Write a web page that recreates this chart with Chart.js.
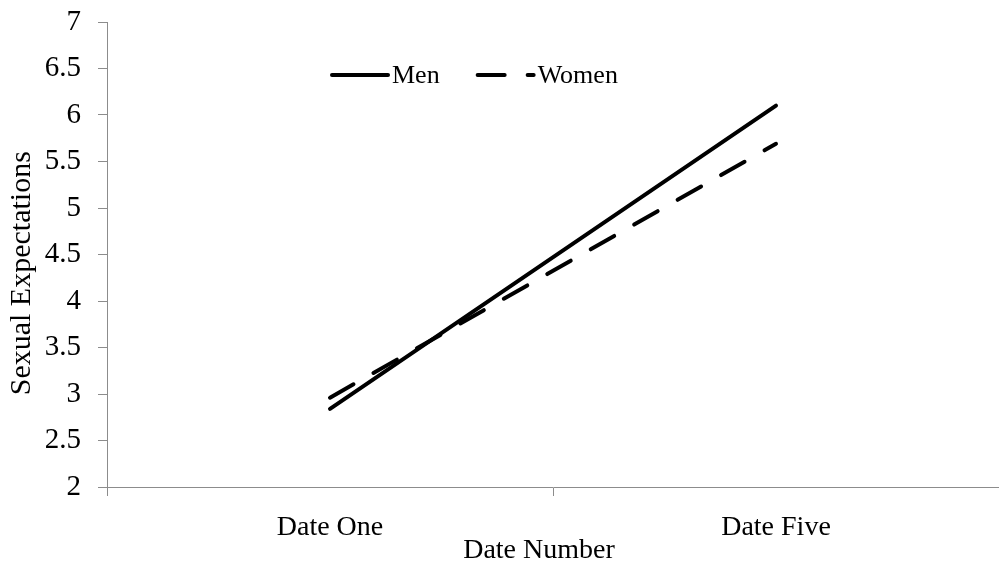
<!DOCTYPE html>
<html>
<head>
<meta charset="utf-8">
<script src="https://cdn.jsdelivr.net/npm/chart.js@4.4.1/dist/chart.umd.min.js"></script>
<style>
html,body{margin:0;padding:0;background:#fff;}
#wrap{width:999px;height:568px;}
</style>
</head>
<body>
<div id="wrap"><canvas id="c" width="999" height="568"></canvas></div>
<script>
const categories = ["Date One", "Date Five"];
const menValues = [2.84, 6.1];
const womenValues = [2.96, 5.69];
const seriesLabels = ["Men", "Women"];
const yTitle = "Sexual Expectations";
const xTitle = "Date Number";

const FONT = "'Liberation Serif', 'Times New Roman', serif";
const AXIS_GRAY = "#8c8c8c";

const customLegend = {
  id: "customLegend",
  afterDraw(chart) {
    const ctx = chart.ctx;
    const area = chart.chartArea;
    const y = area.top + 53;
    let x = area.left + 223;
    ctx.save();
    ctx.font = "26px " + FONT;
    ctx.fillStyle = "#000";
    ctx.textBaseline = "middle";
    chart.data.datasets.forEach((ds, i) => {
      const len = 58;
      ctx.beginPath();
      ctx.strokeStyle = ds.borderColor;
      ctx.lineWidth = ds.borderWidth;
      ctx.lineCap = "round";
      ctx.setLineDash(ds.borderDash || []);
      ctx.moveTo(x + 2, y);
      ctx.lineTo(x + len, y);
      ctx.stroke();
      ctx.setLineDash([]);
      ctx.fillText(ds.label, x + len + 4, y + 1);
      x += len + 4 + ctx.measureText(ds.label).width + 36;
    });
    ctx.restore();
  }
};

new Chart(document.getElementById("c"), {
  type: "line",
  data: {
    labels: categories,
    datasets: [
      {
        label: seriesLabels[0],
        data: menValues,
        borderColor: "#000",
        borderWidth: 4,
        borderCapStyle: "round",
        pointRadius: 0,
        fill: false,
        tension: 0
      },
      {
        label: seriesLabels[1],
        data: womenValues,
        borderColor: "#000",
        borderWidth: 4,
        borderCapStyle: "round",
        borderDash: [27, 23],
        pointRadius: 0,
        fill: false,
        tension: 0
      }
    ]
  },
  options: {
    responsive: false,
    animation: false,
    devicePixelRatio: 1,
    layout: { padding: 0 },
    plugins: {
      legend: { display: false },
      tooltip: { enabled: false }
    },
    scales: {
      x: {
        type: "category",
        offset: true,
        afterFit(scale) {
          scale.height = 81;
          scale.paddingLeft = 0;
          scale.paddingRight = 0;
        },
        grid: {
          offset: true,
          drawOnChartArea: false,
          drawTicks: true,
          tickLength: 9,
          color: AXIS_GRAY
        },
        border: { color: AXIS_GRAY, width: 1 },
        ticks: {
          color: "#000",
          font: { family: FONT, size: 28 },
          padding: 15,
          maxRotation: 0
        },
        title: {
          display: true,
          text: xTitle + "    ",
          color: "#000",
          font: { family: FONT, size: 28 },
          padding: { top: -24, bottom: 1 }
        }
      },
      y: {
        min: 2,
        max: 7,
        afterFit(scale) {
          scale.width = 107;
          scale.paddingTop = 22;
          scale.paddingBottom = 0;
        },
        grid: {
          drawOnChartArea: false,
          drawTicks: true,
          tickLength: 9,
          color: AXIS_GRAY
        },
        border: { color: AXIS_GRAY, width: 1 },
        ticks: {
          stepSize: 0.5,
          color: "#000",
          font: { family: FONT, size: 29 },
          padding: 17,
          callback: (v) => String(v)
        },
        title: {
          display: true,
          text: yTitle + "     ",
          color: "#000",
          font: { family: FONT, size: 30 },
          padding: { top: 4, bottom: 5 }
        }
      }
    }
  },
  plugins: [customLegend]
});
</script>
</body>
</html>
